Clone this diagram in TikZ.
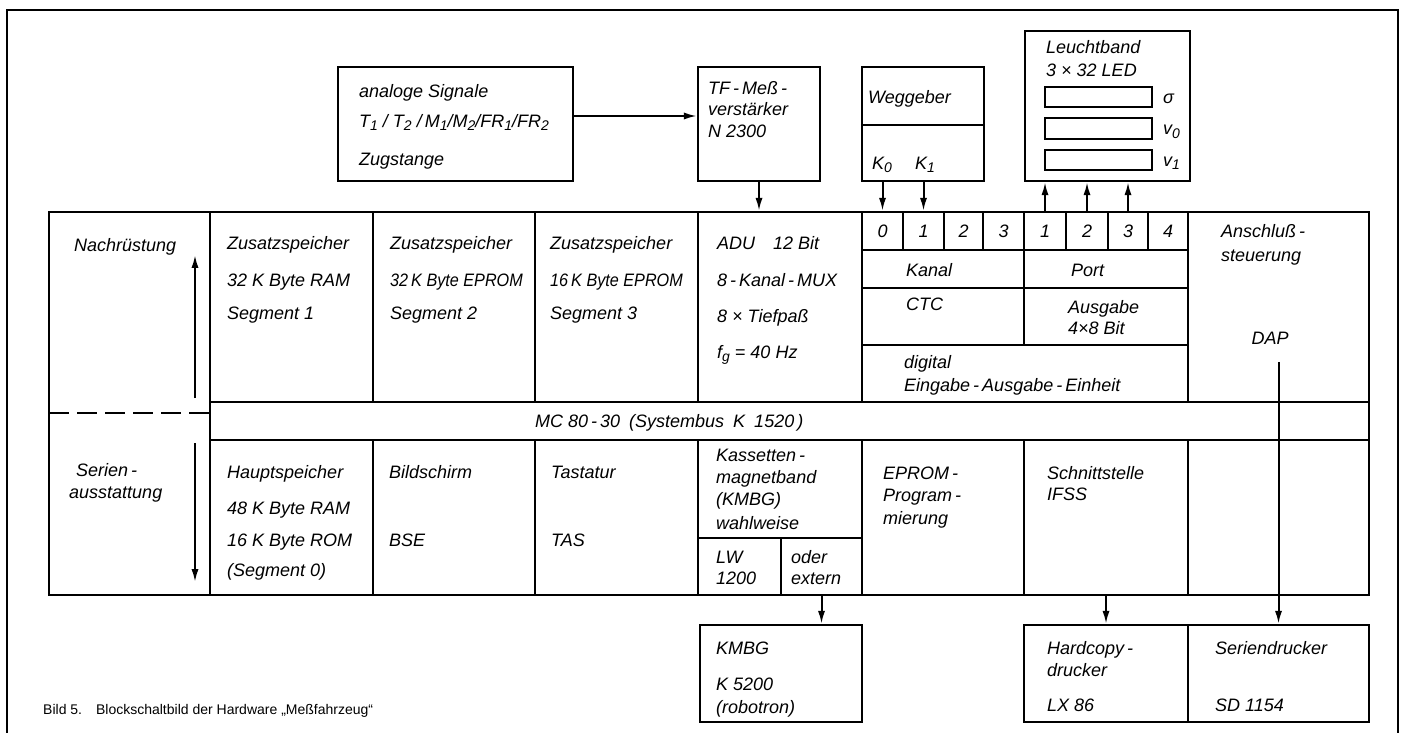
\documentclass[tikz,border=0pt]{standalone}
\usepackage{fontspec}
\setmainfont{Liberation Sans}
\newfontfamily\narrowfont{Liberation Sans}[FakeStretch=0.9]
\newcommand{\idx}[1]{\raisebox{-0.35ex}{\fontsize{7}{8}\selectfont #1}}
\usetikzlibrary{arrows.meta,fit}
\begin{document}
\begin{tikzpicture}[x=0.5pt,y=-0.5pt,line width=1.2pt,
    box/.style={draw,inner sep=0pt},
    lbl/.style={anchor=west,inner sep=0pt,font=\fontsize{9}{10}\selectfont\itshape,text height=1.6ex,text depth=0.4ex},
    tight/.style={lbl,font=\fontsize{9}{10}\narrowfont\itshape},
    num/.style={lbl,anchor=center},
    arr/.style={line width=1pt,-{Latex[length=6.5pt,width=3.6pt]}}]
    \useasboundingbox (0,0) rectangle (1410,733);
    \draw[line width=0.9pt] (7,733) -- (7,10) -- (1398,10) -- (1398,733);
    \node[box,fit={(338,67) (573,181)}] (analog) {};
    \node[box,fit={(698,67) (820,181)}] (tf) {};
    \node[box,fit={(862,67) (984,181)}] (weg) {};
    \node[box,fit={(1025,31) (1190,181)}] (leucht) {};
    \draw (weg.west |- 0,125) -- (weg.east |- 0,125);
    \foreach \yt/\yb/\lab [count=\i] in {87/107/σ,118/139/{v\idx{0}},150/170/{v\idx{1}}} {
        \node[box,fit={(1045,\yt) (1152,\yb)}] (bar\i) {};
        \node[lbl] (barlab\i) at (1162,{(\yt+\yb)/2}) {\lab};
    }
    \node[box,fit={(49,212) (1369,595)}] (mc) {};
    \draw (210,212) -- (210,595);
    \foreach \x in {373,535,698,862,1188} \draw (\x,212) -- (\x,402) (\x,440) -- (\x,595);
    \draw (1024,212) -- (1024,345) (1024,440) -- (1024,595);
    \draw (210,402) -- (1369,402) (210,440) -- (1369,440);
    \draw (862,288) -- (1188,288) (862,345) -- (1188,345);
    \draw[dash pattern=on 10pt off 4pt] (49,413) -- (210,413);
    \foreach \a/\b [count=\i from 0] in {862/903,903/944,944/983,983/1024} {
        \node[box,fit={(\a,212) (\b,250)}] (c\i) {};
        \node[num] (cnum\i) at (c\i) {\i};
    }
    \foreach \a/\b [count=\i] in {1024/1066,1066/1108,1108/1148,1148/1188} {
        \node[box,fit={(\a,212) (\b,250)}] (p\i) {};
        \node[num] (pnum\i) at (p\i) {\i};
    }
    \node[box,fit={(698,538) (781,595)}] (lw) {};
    \node[box,fit={(781,538) (862,595)}] (oder) {};
    \draw[arr] (195,398) -- (195,255);
    \draw[arr] (195,443) -- (195,582);
    \node[box,fit={(700,625) (862,722)}] (kmbg) {};
    \node[box,fit={(1024,625) (1188,722)}] (hc) {};
    \node[box,fit={(1188,625) (1369,722)}] (ser) {};
    \foreach \y/\t in {91/{analoge Signale},121/{T\idx{1}\;/\;T\idx{2}\;/\,M\idx{1}/M\idx{2}/FR\idx{1}/FR\idx{2}},159/{Zugstange}}
        \node[lbl] (an\y) at (358,\y) {\t};
    \foreach \y/\t in {88/{TF\,-\,Meß\,-},109/{verstärker},131/{N 2300}}
        \node[lbl] (tf\y) at (707,\y) {\t};
    \node[lbl] (wegtxt) at (867,97) {Weggeber};
    \node[num] (k0) at (882,163) {K\idx{0}};
    \node[num] (k1) at (925,163) {K\idx{1}};
    \node[lbl] (lb1) at (1045,47) {Leuchtband};
    \node[lbl] (lb2) at (1045,70) {3 × 32 LED};
    \node[lbl] (nach) at (73,245) {Nachrüstung};
    \node[lbl] (ser1) at (75,470) {Serien\,-};
    \node[lbl] (ser2) at (68,492) {ausstattung};
    \node[lbl] (zs1) at (226,243) {Zusatzspeicher};
    \node[lbl] (zk1) at (226,280) {32 K Byte RAM};
    \node[lbl] (zg1) at (226,313) {Segment 1};
    \node[lbl] (zs2) at (389,243) {Zusatzspeicher};
    \node[tight] (zk2) at (389,280) {32\,K Byte EPROM};
    \node[lbl] (zg2) at (389,313) {Segment 2};
    \node[lbl] (zs3) at (549,243) {Zusatzspeicher};
    \node[tight] (zk3) at (549,280) {16\,K Byte EPROM};
    \node[lbl] (zg3) at (549,313) {Segment 3};
    \foreach \y/\t in {243/{ADU\quad 12 Bit},280/{8\,-\,Kanal\,-\,MUX},316/{8 × Tiefpaß},352/{f\idx{g} = 40 Hz}}
        \node[lbl] (adu\y) at (716,\y) {\t};
    \node[lbl] (kanal) at (905,270) {Kanal};
    \node[lbl] (port) at (1070,270) {Port};
    \node[lbl] (ctc) at (905,304) {CTC};
    \node[lbl] (aus1) at (1067,307) {Ausgabe};
    \node[lbl] (aus2) at (1067,328) {4×8 Bit};
    \node[lbl] (dig1) at (903,362) {digital};
    \node[lbl] (dig2) at (903,385) {Eingabe\,-\,Ausgabe\,-\,Einheit};
    \node[lbl] (ans1) at (1220,231) {Anschluß\,-};
    \node[lbl] (ans2) at (1220,255) {steuerung};
    \node[num] (dap) at (1270,338) {DAP};
    \node[lbl] (bus) at (534,421) {MC 80\,-\,30\enspace(Systembus\enspace K\enspace 1520\,)};
    \foreach \y/\t in {472/{Hauptspeicher},508/{48 K Byte RAM},540/{16 K Byte ROM},570/{(Segment 0)}}
        \node[lbl] (hs\y) at (226,\y) {\t};
    \node[lbl] (bs1) at (388,472) {Bildschirm};
    \node[lbl] (bs2) at (388,540) {BSE};
    \node[lbl] (ta1) at (550,472) {Tastatur};
    \node[lbl] (ta2) at (550,540) {TAS};
    \foreach \y/\t in {455/{Kassetten\,-},477/{magnetband},499/{(KMBG)},523/{wahlweise}}
        \node[lbl] (ka\y) at (715,\y) {\t};
    \node[lbl] (lw1) at (715,557) {LW};
    \node[lbl] (lw2) at (715,578) {1200};
    \node[lbl] (od1) at (790,557) {oder};
    \node[lbl] (od2) at (790,578) {extern};
    \foreach \y/\t in {473/{EPROM\,-},495/{Program\,-},518/{mierung}}
        \node[lbl] (ep\y) at (882,\y) {\t};
    \node[lbl] (sst1) at (1046,473) {Schnittstelle};
    \node[lbl] (sst2) at (1046,494) {IFSS};
    \foreach \y/\t in {648/{KMBG},684/{K 5200},707/{(robotron)}}
        \node[lbl] (km\y) at (715,\y) {\t};
    \foreach \y/\t in {648/{Hardcopy\,-},670/{drucker},705/{LX 86}}
        \node[lbl] (hc\y) at (1046,\y) {\t};
    \node[lbl] (sd1) at (1214,648) {Seriendrucker};
    \node[lbl] (sd2) at (1214,705) {SD 1154};
    \node[anchor=west,inner sep=0pt,font=\fontsize{7}{8}\selectfont] (cap) at (42,711) {Bild 5.\hspace{7pt}Blockschaltbild der Hardware „Meßfahrzeug“};
    \draw[arr] ([yshift=4pt]analog.east) -- ([yshift=4pt]tf.west);
    \draw[arr] (tf.south) -- (tf.south |- mc.north);
    \draw[arr] (weg.south -| c0) -- (c0.north);
    \draw[arr] (weg.south -| c1) -- (c1.north);
    \foreach \i in {1,2,3} \draw[arr] (p\i.north) -- (p\i.north |- leucht.south);
    \draw[arr,shorten <=6pt] (ser.north |- dap.south) -- (ser.north);
    \draw[arr] (hc.north |- mc.south) -- (hc.north);
    \draw[arr] (oder.south) -- (oder.south |- kmbg.north);
\end{tikzpicture}
\end{document}
